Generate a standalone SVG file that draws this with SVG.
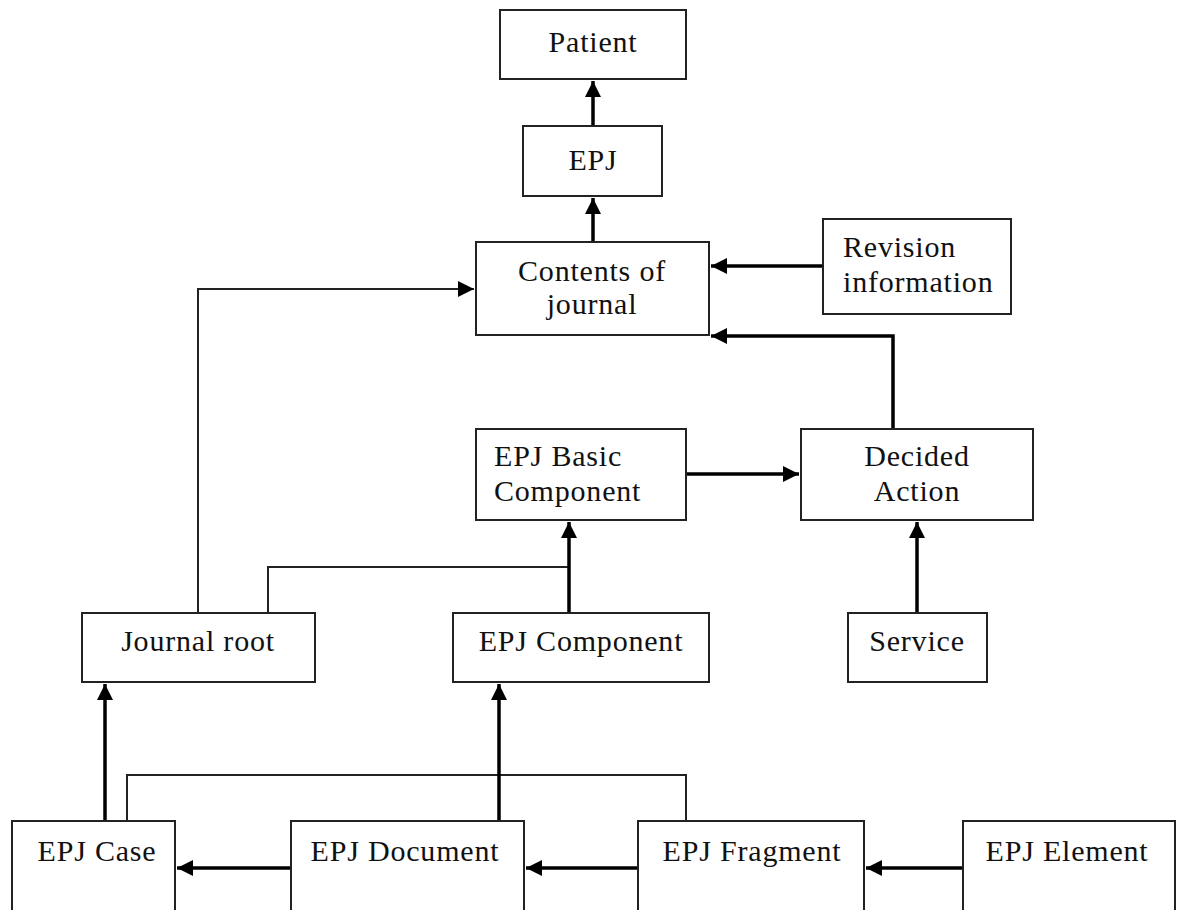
<svg xmlns="http://www.w3.org/2000/svg" width="1177" height="910" viewBox="0 0 1177 910">
<defs>
<marker id="ah" viewBox="0 0 10 10" refX="10" refY="5" markerWidth="16" markerHeight="16" markerUnits="userSpaceOnUse" orient="auto">
<path d="M0,0 L10,5 L0,10 z" fill="#000"/>
</marker>
<style>
.box{fill:#fff;stroke:#222;stroke-width:2}
.t{font-family:"Liberation Serif","Times New Roman",serif;font-size:30px;letter-spacing:0.8px;fill:#111}
.c{text-anchor:middle}
.thick{fill:none;stroke:#000;stroke-width:3.5}
.thin{fill:none;stroke:#222;stroke-width:2}
</style>
</defs>
<rect width="1177" height="910" fill="#fff"/>
<g id="connectors">
<line class="thick" x1="593" y1="126" x2="593" y2="81" marker-end="url(#ah)"/>
<line class="thick" x1="593" y1="242" x2="593" y2="198" marker-end="url(#ah)"/>
<line class="thick" x1="823" y1="266" x2="711" y2="266" marker-end="url(#ah)"/>
<polyline class="thick" points="893,429 893,336 711,336" marker-end="url(#ah)"/>
<polyline class="thin" points="198,613 198,289 474,289" marker-end="url(#ah)"/>
<line class="thick" x1="686" y1="474" x2="799" y2="474" marker-end="url(#ah)"/>
<polyline class="thin" points="268,613 268,567 569,567"/>
<line class="thick" x1="569" y1="613" x2="569" y2="522" marker-end="url(#ah)"/>
<line class="thick" x1="917" y1="613" x2="917" y2="522" marker-end="url(#ah)"/>
<line class="thick" x1="105" y1="821" x2="105" y2="684" marker-end="url(#ah)"/>
<polyline class="thin" points="127,821 127,775 686,775 686,821"/>
<line class="thick" x1="499" y1="821" x2="499" y2="684" marker-end="url(#ah)"/>
<line class="thick" x1="291" y1="868" x2="177" y2="868" marker-end="url(#ah)"/>
<line class="thick" x1="638" y1="868" x2="526" y2="868" marker-end="url(#ah)"/>
<line class="thick" x1="963" y1="868" x2="866" y2="868" marker-end="url(#ah)"/>
</g>
<g id="patient"><rect class="box" x="500" y="10" width="186" height="69"/><text class="t c" x="593" y="52">Patient</text></g>
<g id="epj"><rect class="box" x="523" y="126" width="139" height="70"/><text class="t c" x="593" y="170">EPJ</text></g>
<g id="contents"><rect class="box" x="476" y="242" width="233" height="93"/><text class="t c" x="592" y="281">Contents of</text><text class="t c" x="592" y="314">journal</text></g>
<g id="revision"><rect class="box" x="823" y="219" width="188" height="95"/><text class="t" x="843" y="257">Revision</text><text class="t" x="843" y="292">information</text></g>
<g id="basic"><rect class="box" x="476" y="429" width="210" height="91"/><text class="t" x="494" y="466">EPJ Basic</text><text class="t" x="494" y="501">Component</text></g>
<g id="decided"><rect class="box" x="801" y="429" width="232" height="91"/><text class="t c" x="917" y="466">Decided</text><text class="t c" x="917" y="501">Action</text></g>
<g id="journalroot"><rect class="box" x="82" y="613" width="233" height="69"/><text class="t c" x="198" y="651">Journal root</text></g>
<g id="component"><rect class="box" x="453" y="613" width="256" height="69"/><text class="t c" x="581" y="651">EPJ Component</text></g>
<g id="service"><rect class="box" x="848" y="613" width="139" height="69"/><text class="t c" x="917" y="651">Service</text></g>
<g id="case"><rect class="box" x="12" y="821" width="163" height="100"/><text class="t c" x="97" y="861">EPJ Case</text></g>
<g id="document"><rect class="box" x="291" y="821" width="233" height="100"/><text class="t c" x="405" y="861">EPJ Document</text></g>
<g id="fragment"><rect class="box" x="638" y="821" width="226" height="100"/><text class="t c" x="752" y="861">EPJ Fragment</text></g>
<g id="element"><rect class="box" x="963" y="821" width="212" height="100"/><text class="t c" x="1067" y="861">EPJ Element</text></g>
</svg>
